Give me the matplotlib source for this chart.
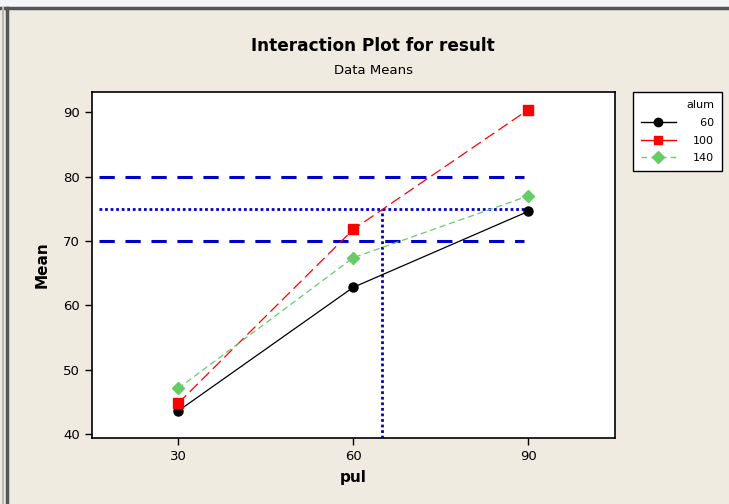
import matplotlib.pyplot as plt
from matplotlib.lines import Line2D
from matplotlib.patches import Rectangle

pul = [30, 60, 90]
alum_levels = ["60", "100", "140"]
mean_60 = [43.6, 62.8, 74.6]
mean_100 = [44.8, 71.8, 90.4]
mean_140 = [47.1, 67.4, 77.0]

# reference band drawn over the means
band_low = 70
band_high = 80
target = 75
pul_target = 65
band_x = [16.5, 89.2]

plt.rcParams['font.family'] = ['DejaVu Sans']

fig = plt.figure(figsize=(7.29, 5.04), dpi=100, facecolor='#EFEBE1')

# window frame: light strip on top, grey border on top and left
fig.patches.append(Rectangle((0, 0.985), 1, 0.015, transform=fig.transFigure,
                             facecolor='#F3F5F8', edgecolor='none', zorder=0))
fig.add_artist(Line2D([0, 1], [0.984, 0.984], transform=fig.transFigure,
                      color='#555555', lw=2.5))
fig.add_artist(Line2D([0.009, 0.009], [0, 0.985], transform=fig.transFigure,
                      color='#555555', lw=2.5))
fig.add_artist(Line2D([0.004, 0.004], [0, 0.985], transform=fig.transFigure,
                      color='#B8B8B8', lw=1.5))

ax = fig.add_axes([0.126, 0.131, 0.718, 0.686])
ax.set_facecolor('white')

ax.plot(pul, mean_60, color='black', lw=0.9, marker='o', ms=6.5, zorder=5)
ax.plot(pul, mean_100, color='#FF0000', lw=0.9, dashes=(9, 4), marker='s', ms=7, zorder=5)
ax.plot(pul, mean_140, color='#66CC66', lw=0.9, dashes=(5, 3), marker='D', ms=6.5, zorder=5)

ax.hlines([band_high, band_low], band_x[0], band_x[1], color='#0000CC', lw=2.2,
          linestyles=(0, (5, 3.5)), zorder=3)
ax.hlines(target, band_x[0], band_x[1], color='#0000CC', lw=2.0,
          linestyles=(0, (1, 1)), zorder=3)
ax.vlines(pul_target, 39.4, target, color='#0000CC', lw=2.0,
          linestyles=(0, (1, 1)), zorder=3)

ax.set_xlim(15.2, 104.9)
ax.set_ylim(39.4, 93.1)
ax.set_xticks(pul)
ax.set_yticks([40, 50, 60, 70, 80, 90])
ax.tick_params(direction='out', length=5, width=1, labelsize=9.5, colors='black')
for s in ax.spines.values():
    s.set_linewidth(1.2)

ax.set_xlabel('pul', fontsize=11, fontweight='bold', labelpad=5)
ax.set_ylabel('Mean', fontsize=11, fontweight='bold', labelpad=10)

fig.text(0.512, 0.908, 'Interaction Plot for result', ha='center', va='center',
         fontsize=12.2, fontweight='bold')
fig.text(0.512, 0.861, 'Data Means', ha='center', va='center', fontsize=9.5)

handles = [
    Line2D([], [], color='black', lw=1, marker='o', ms=6),
    Line2D([], [], color='#FF0000', lw=1, marker='s', ms=6),
    Line2D([], [], color='#66CC66', lw=1, dashes=(4, 3), marker='D', ms=6),
]
labels = [lv.rjust(3, '\u2007') for lv in alum_levels]
leg = fig.legend(handles, labels, title='alum', loc='upper left',
                 bbox_to_anchor=(0.868, 0.817), borderaxespad=0,
                 fontsize=8, title_fontsize=8,
                 alignment='right', frameon=True, fancybox=False,
                 edgecolor='black', framealpha=1, handlelength=3.2,
                 borderpad=0.7, labelspacing=0.7, handletextpad=1.5)
leg.get_frame().set_linewidth(1.0)

fig.savefig('out.png', dpi=100, facecolor=fig.get_facecolor())
